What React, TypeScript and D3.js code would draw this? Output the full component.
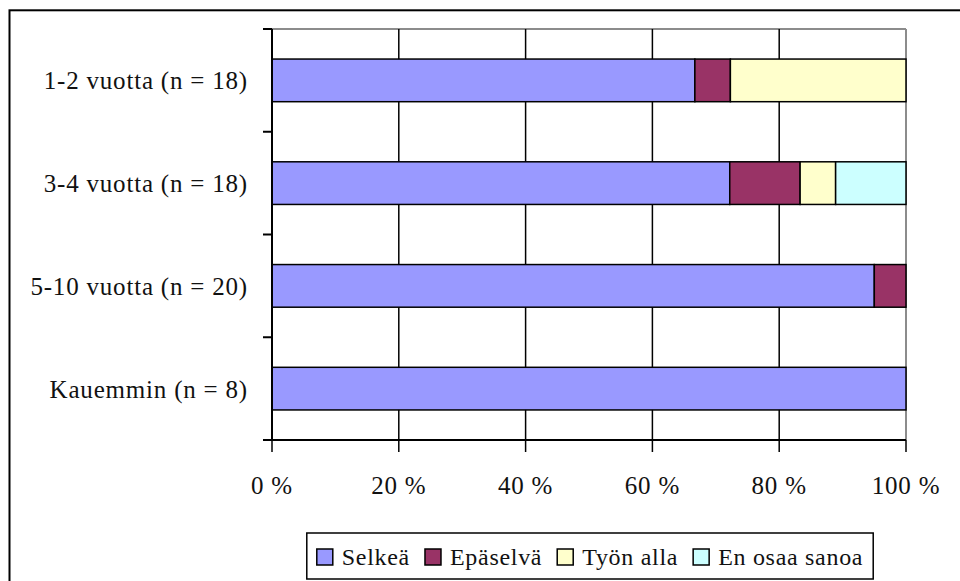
import React, { useEffect, useRef } from "react";
import * as d3 from "d3";

const categories = ["1-2 vuotta (n = 18)", "3-4 vuotta (n = 18)", "5-10 vuotta (n = 20)", "Kauemmin (n = 8)"];
const seriesNames = ["Selkeä", "Epäselvä", "Työn alla", "En osaa sanoa"];
const selkea = [66.7, 72.2, 95, 100];
const epaselva = [5.6, 11.1, 5, 0];
const tyonAlla = [27.7, 5.6, 0, 0];
const enOsaa = [0, 11.1, 0, 0];
const xTicks = [0, 20, 40, 60, 80, 100];
const colors = ["#9999FF", "#993366", "#FFFFCC", "#CCFFFF"];

const FONT = "Liberation Serif";

export default function App() {
  const ref = useRef<SVGSVGElement | null>(null);

  useEffect(() => {
    const svg = d3.select(ref.current);
    svg.selectAll("*").remove();

    const left = 272, right = 906, top = 29, bottom = 440;
    const x = d3.scaleLinear().domain([0, 100]).range([left, right]);
    const y = d3.scaleBand<string>().domain(categories).range([top, bottom]).paddingInner(0.585).paddingOuter(0.2925);
    const step = y.step();

    const txt = (sel: any, size: number, ls: number) =>
      sel.style("font-family", FONT).style("font-size", `${size}px`).style("letter-spacing", `${ls}px`).attr("fill", "#111");

    // outer frame
    svg.append("rect").attr("x", 9.5).attr("y", 10.3).attr("width", 980).attr("height", 600)
      .attr("fill", "white").attr("stroke", "black").attr("stroke-width", 2);

    // plot frame top/right (grey)
    svg.append("line").attr("x1", left).attr("x2", right).attr("y1", top).attr("y2", top)
      .attr("stroke", "#8c8c8c").attr("stroke-width", 2);
    svg.append("line").attr("x1", right).attr("x2", right).attr("y1", top).attr("y2", bottom)
      .attr("stroke", "#8c8c8c").attr("stroke-width", 2);

    // gridlines
    xTicks.filter(t => t > 0 && t < 100).forEach(t => {
      svg.append("line").attr("x1", x(t)).attr("x2", x(t)).attr("y1", top).attr("y2", bottom)
        .attr("stroke", "black").attr("stroke-width", 1.5);
    });

    // bars
    const table = categories.map((c, i) => ({
      cat: c,
      [seriesNames[0]]: selkea[i],
      [seriesNames[1]]: epaselva[i],
      [seriesNames[2]]: tyonAlla[i],
      [seriesNames[3]]: enOsaa[i],
    }));
    const stack = d3.stack<any>().keys(seriesNames);
    const series = stack(table);
    series.forEach((s, si) => {
      svg.append("g").selectAll("rect").data(s.filter(d => d[1] - d[0] > 0)).join("rect")
        .attr("x", d => x(d[0]))
        .attr("y", d => y(d.data.cat)!)
        .attr("width", d => x(d[1]) - x(d[0]))
        .attr("height", y.bandwidth())
        .attr("fill", colors[si])
        .attr("stroke", "black")
        .attr("stroke-width", 1.5);
    });

    // axes
    svg.append("line").attr("x1", left).attr("x2", left).attr("y1", top).attr("y2", bottom)
      .attr("stroke", "black").attr("stroke-width", 2);
    svg.append("line").attr("x1", left - 8).attr("x2", right).attr("y1", bottom).attr("y2", bottom)
      .attr("stroke", "black").attr("stroke-width", 2);
    for (let i = 0; i <= categories.length; i++) {
      const yy = top + i * step;
      svg.append("line").attr("x1", left - 9).attr("x2", left).attr("y1", yy).attr("y2", yy)
        .attr("stroke", "black").attr("stroke-width", 2);
    }
    xTicks.forEach(t => {
      svg.append("line").attr("x1", x(t)).attr("x2", x(t)).attr("y1", bottom).attr("y2", bottom + 12)
        .attr("stroke", "black").attr("stroke-width", 1.5);
      txt(svg.append("text").attr("x", x(t)).attr("y", 494).attr("text-anchor", "middle"), 25, 0.8)
        .text(`${t} %`);
    });

    // category labels
    categories.forEach(c => {
      txt(svg.append("text").attr("x", 248).attr("y", y(c)! + y.bandwidth() / 2 + 9).attr("text-anchor", "end"), 25, 0.8)
        .text(c);
    });

    // legend
    const lg = svg.append("g");
    const box = lg.append("rect").attr("fill", "white").attr("stroke", "black").attr("stroke-width", 1.5);
    const inner = lg.append("g");
    let cx = 0;
    const gap = 15;
    seriesNames.forEach((name, i) => {
      inner.append("rect").attr("x", cx).attr("y", 549).attr("width", 16).attr("height", 16)
        .attr("fill", colors[i]).attr("stroke", "black").attr("stroke-width", 1.5);
      const tx = txt(inner.append("text").attr("x", cx + 25).attr("y", 565), 24, 0.7).text(name);
      const w = (tx.node() as SVGTextElement).getComputedTextLength();
      cx += 25 + w + gap;
    });
    const totalW = cx - gap;
    const startX = 590 - totalW / 2;
    inner.attr("transform", `translate(${startX},0)`);
    box.attr("x", startX - 10).attr("y", 533).attr("width", totalW + 20).attr("height", 46);
  }, []);

  return (
    <svg ref={ref} width={960} height={581}
      style={{ position: "fixed", left: 0, top: 0, background: "white" }} />
  );
}
